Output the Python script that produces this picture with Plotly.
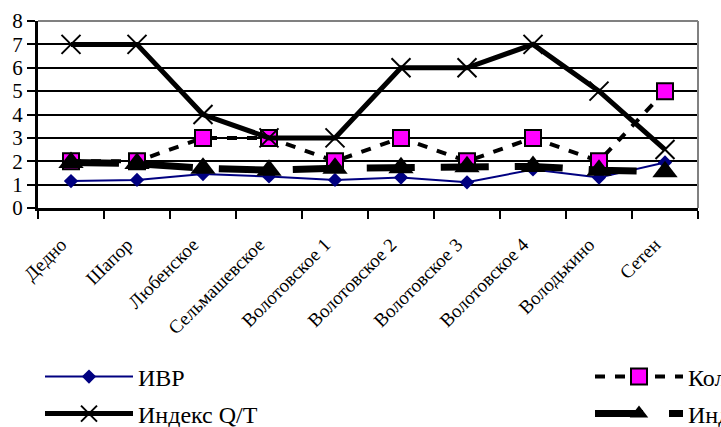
import plotly.graph_objects as go

categories = ["Дедно", "Шапор", "Любенское", "Сельмашевское", "Волотовское 1",
              "Волотовское 2", "Волотовское 3", "Волотовское 4", "Володькино", "Сетен"]
ivr = [1.15, 1.2, 1.45, 1.35, 1.2, 1.3, 1.1, 1.65, 1.3, 1.95]
kol = [2, 2, 3, 3, 2, 3, 2, 3, 2, 5]
qt = [7, 7, 4, 3, 3, 6, 6, 7, 5, 2.5]
ind = [1.95, 1.9, 1.7, 1.62, 1.7, 1.72, 1.76, 1.78, 1.62, 1.55]
y_ticks = [0, 1, 2, 3, 4, 5, 6, 7, 8]

names = ["ИВР", "Количество видов", "Индекс Q/T", "Индекс разнообразия"]

FONT = "Times New Roman, Liberation Serif, Tinos, DejaVu Serif, serif"
W, H = 721, 427

fig = go.Figure()
fig.add_trace(go.Scatter(
    x=categories, y=ivr, name=names[0], mode="lines+markers",
    line=dict(color="#000080", width=2),
    marker=dict(symbol="diamond", size=11, color="#000080"),
    legend="legend"))
fig.add_trace(go.Scatter(
    x=categories, y=kol, name=names[1], mode="lines+markers",
    line=dict(color="black", width=4, dash="10px,10px"),
    marker=dict(symbol="square", size=16, color="#FF00FF", line=dict(color="black", width=2)),
    legend="legend2"))
fig.add_trace(go.Scatter(
    x=categories, y=qt, name=names[2], mode="lines+markers",
    line=dict(color="black", width=5),
    marker=dict(symbol="x-thin", size=19, color="black", line=dict(color="black", width=2)),
    legend="legend3"))
fig.add_trace(go.Scatter(
    x=categories, y=ind, name=names[3], mode="lines+markers",
    line=dict(color="black", width=7, dash="48px,26px"),
    marker=dict(symbol="triangle-up", size=22, color="black"),
    legend="legend4"))

L, R, T, B = 38, 23, 21, 219

def leg(px, py):
    return dict(xref="container", yref="container", x=px / W, y=1 - py / H,
                xanchor="left", yanchor="middle", bgcolor="rgba(0,0,0,0)",
                font=dict(family=FONT, size=24, color="black"),
                itemwidth=88, borderwidth=0)

# trailing no-break spaces nudge the rotated labels to sit as in the reference
tick_text = [c + "\u00a0\u00a0\u00a0" for c in categories]

fig.update_layout(
    width=W, height=H,
    margin=dict(l=L, r=R, t=T, b=B, pad=0, autoexpand=False),
    paper_bgcolor="white", plot_bgcolor="white",
    font=dict(family=FONT, size=19, color="black"),
    showlegend=True,
    legend=leg(40, 377),
    legend2=leg(590, 377),
    legend3=leg(40, 414),
    legend4=leg(590, 414),
    xaxis=dict(
        type="category", categoryorder="array", categoryarray=categories,
        tickmode="array", tickvals=categories, ticktext=tick_text,
        tickson="boundaries", ticks="outside", ticklen=8, tickwidth=2, tickcolor="black",
        showline=True, linecolor="black", linewidth=3, showgrid=False,
        tickangle=-45, tickfont=dict(family=FONT, size=19), automargin=False,
        ticklabelstandoff=5,
        range=[-0.5, 9.5], zeroline=False),
    yaxis=dict(
        range=[0, 8], tickvals=y_ticks, ticktext=[str(v) for v in y_ticks],
        ticks="outside", ticklen=8, tickwidth=2, tickcolor="black",
        showline=True, linecolor="black", linewidth=3, automargin=False,
        showgrid=True, gridcolor="black", gridwidth=2, zeroline=False,
        tickfont=dict(family=FONT, size=21)),
)

# plot-area border (grey top and right)
fig.add_shape(type="line", xref="paper", yref="paper", x0=0, x1=1, y0=1, y1=1,
              line=dict(color="#808080", width=2), layer="above")
fig.add_shape(type="line", xref="paper", yref="paper", x0=1, x1=1, y0=0, y1=1,
              line=dict(color="#808080", width=2), layer="above")

fig.write_html("out.html")
